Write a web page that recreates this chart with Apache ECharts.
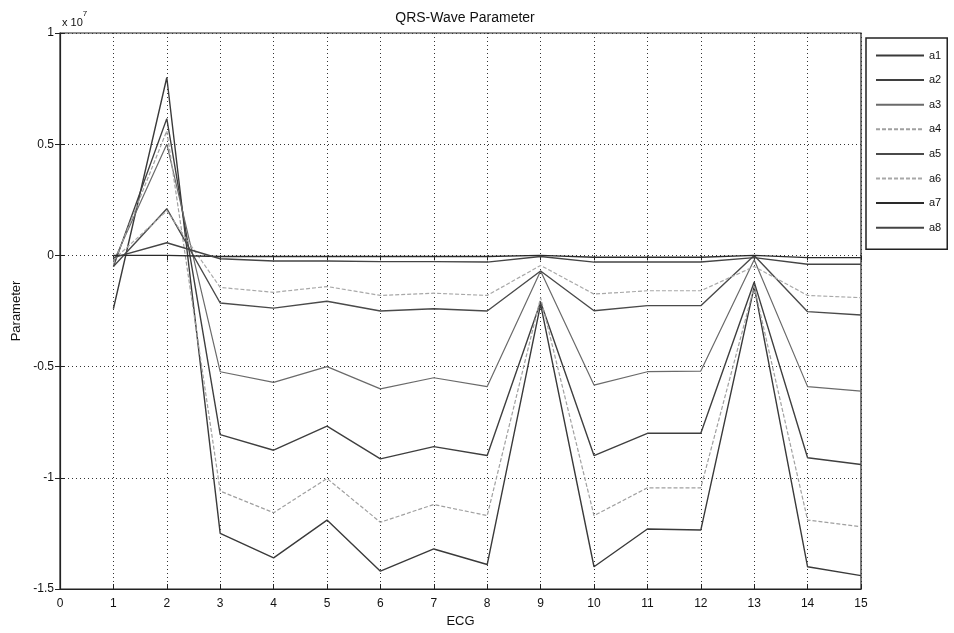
<!DOCTYPE html>
<html>
<head>
<meta charset="utf-8">
<title>QRS-Wave Parameter</title>
<script src="https://cdn.jsdelivr.net/npm/echarts@6/dist/echarts.min.js"></script>
<style>
  html, body { margin: 0; padding: 0; background: #fff; }
  #chart { width: 954px; height: 633px; }
</style>
</head>
<body>
<div id="chart"></div>
<script>
// ECG record index (x axis)
const ecg = [1, 2, 3, 4, 5, 6, 7, 8, 9, 10, 11, 12, 13, 14, 15];

// Parameter values, in units of 1e7
const a1 = [-0.24, 0.80, -1.25, -1.36, -1.19, -1.42, -1.32, -1.39, -0.22, -1.40, -1.23, -1.235, -0.14, -1.40, -1.44];
const a2 = [-0.05, 0.615, -0.806, -0.876, -0.768, -0.915, -0.86, -0.90, -0.21, -0.90, -0.80, -0.80, -0.12, -0.91, -0.94];
const a3 = [-0.03, 0.50, -0.523, -0.571, -0.50, -0.60, -0.55, -0.59, -0.07, -0.583, -0.523, -0.52, -0.02, -0.59, -0.61];
const a4 = [-0.04, 0.56, -1.06, -1.157, -1.003, -1.20, -1.12, -1.17, -0.19, -1.17, -1.045, -1.045, -0.14, -1.19, -1.22];
const a5 = [-0.05, 0.21, -0.214, -0.237, -0.206, -0.25, -0.24, -0.25, -0.07, -0.249, -0.226, -0.226, 0.0, -0.253, -0.268];
const a6 = [-0.02, 0.20, -0.144, -0.166, -0.14, -0.18, -0.17, -0.18, -0.045, -0.174, -0.159, -0.159, -0.05, -0.18, -0.19];
const a7 = [0.0, 0.0, -0.005, -0.005, -0.005, -0.005, -0.005, -0.005, 0.0, -0.008, -0.008, -0.008, 0.0, -0.01, -0.01];
const a8 = [-0.01, 0.057, -0.015, -0.025, -0.025, -0.028, -0.028, -0.03, -0.005, -0.03, -0.03, -0.03, -0.01, -0.04, -0.04];

const seriesNames = ['a1', 'a2', 'a3', 'a4', 'a5', 'a6', 'a7', 'a8'];
const seriesValues = [a1, a2, a3, a4, a5, a6, a7, a8];

// Axis ticks
const xTicks = [0, 1, 2, 3, 4, 5, 6, 7, 8, 9, 10, 11, 12, 13, 14, 15];
const yTicks = [-1.5, -1, -0.5, 0, 0.5, 1];

// Grayscale line looks per series
const looks = [
  { color: '#3a3a3a', type: 'solid', width: 1.4 },
  { color: '#3f3f3f', type: 'solid', width: 1.4 },
  { color: '#6a6a6a', type: 'solid', width: 1.2 },
  { color: '#a0a0a0', type: [4, 2], width: 1.2 },
  { color: '#4a4a4a', type: 'solid', width: 1.4 },
  { color: '#a8a8a8', type: [4, 2], width: 1.2 },
  { color: '#2a2a2a', type: 'solid', width: 1.4 },
  { color: '#444444', type: 'solid', width: 1.4 }
];

const FONT = '"Liberation Sans", Arial, sans-serif';

const series = seriesNames.map((name, i) => ({
  name: name,
  type: 'line',
  symbol: 'none',
  data: ecg.map((x, j) => [x, seriesValues[i][j]]),
  lineStyle: { color: looks[i].color, type: looks[i].type, width: looks[i].width },
  itemStyle: { color: looks[i].color },
  emphasis: { disabled: true },
  animation: false
}));

const gridLine = { show: true, lineStyle: { color: '#333', type: [1, 3], width: 1 } };

const chart = echarts.init(document.getElementById('chart'), null, { renderer: 'canvas' });
chart.setOption({
  backgroundColor: '#fff',
  animation: false,
  textStyle: { fontFamily: FONT },
  title: {
    text: 'QRS-Wave Parameter',
    left: 460,
    textAlign: 'center',
    top: 6,
    textStyle: { fontFamily: FONT, fontSize: 14, fontWeight: 'normal', color: '#111' }
  },
  grid: {
    left: 60, right: 93, top: 33, bottom: 40,
    show: true, borderColor: '#222', borderWidth: 1.2, backgroundColor: 'transparent'
  },
  legend: {
    orient: 'vertical',
    left: 866, top: 38,
    padding: [12, 6, 16, 9],
    itemWidth: 48, itemHeight: 10, itemGap: 13.6,
    backgroundColor: '#fff',
    borderColor: '#222', borderWidth: 1.5,
    itemStyle: { opacity: 0 },
    textStyle: { fontFamily: FONT, fontSize: 11, color: '#111', padding: [0, 0, 0, 0] },
    data: seriesNames
  },
  xAxis: [{
    type: 'value', min: 0, max: 15, interval: 1,
    name: 'ECG', nameLocation: 'middle', nameGap: 26,
    nameTextStyle: { fontFamily: FONT, fontSize: 13, color: '#111' },
    axisLine: { show: true, onZero: false, lineStyle: { color: '#222', width: 1.2 } },
    axisTick: { show: true, inside: true, length: 5, lineStyle: { color: '#222' } },
    axisLabel: {
      fontFamily: FONT, fontSize: 12, color: '#111', margin: 9,
      formatter: v => (xTicks.indexOf(v) >= 0 ? String(v) : '')
    },
    splitLine: gridLine
  }, {
    type: 'value', min: 0, max: 15, interval: 1, position: 'top',
    axisLine: { show: false },
    axisTick: { show: true, inside: true, length: 5, lineStyle: { color: '#222' } },
    axisLabel: { show: false },
    splitLine: { show: false }
  }],
  yAxis: [{
    type: 'value', min: -1.5, max: 1, interval: 0.5,
    name: 'Parameter', nameLocation: 'middle', nameGap: 37, nameRotate: 90,
    nameTextStyle: { fontFamily: FONT, fontSize: 13, color: '#111' },
    axisLine: { show: true, onZero: false, lineStyle: { color: '#222', width: 1.2 } },
    axisTick: { show: true, inside: true, length: 5, lineStyle: { color: '#222' } },
    axisLabel: {
      fontFamily: FONT, fontSize: 12, color: '#111', margin: 6,
      formatter: v => (yTicks.indexOf(v) >= 0 ? String(v) : '')
    },
    splitLine: gridLine
  }, {
    type: 'value', min: -1.5, max: 1, interval: 0.5, position: 'right',
    axisLine: { show: false },
    axisTick: { show: true, inside: true, length: 5, lineStyle: { color: '#222' } },
    axisLabel: { show: false },
    splitLine: { show: false }
  }],
  graphic: [{
    type: 'text',
    left: 62, top: 10,
    style: {
      text: '{b|x 10}{s|7}',
      rich: {
        b: { fontFamily: FONT, fontSize: 11, fill: '#111', verticalAlign: 'bottom', lineHeight: 18 },
        s: { fontFamily: FONT, fontSize: 8, fill: '#111', verticalAlign: 'top', lineHeight: 18, padding: [0, 0, 8, 0] }
      }
    }
  }],
  series: series
});
</script>
</body>
</html>
